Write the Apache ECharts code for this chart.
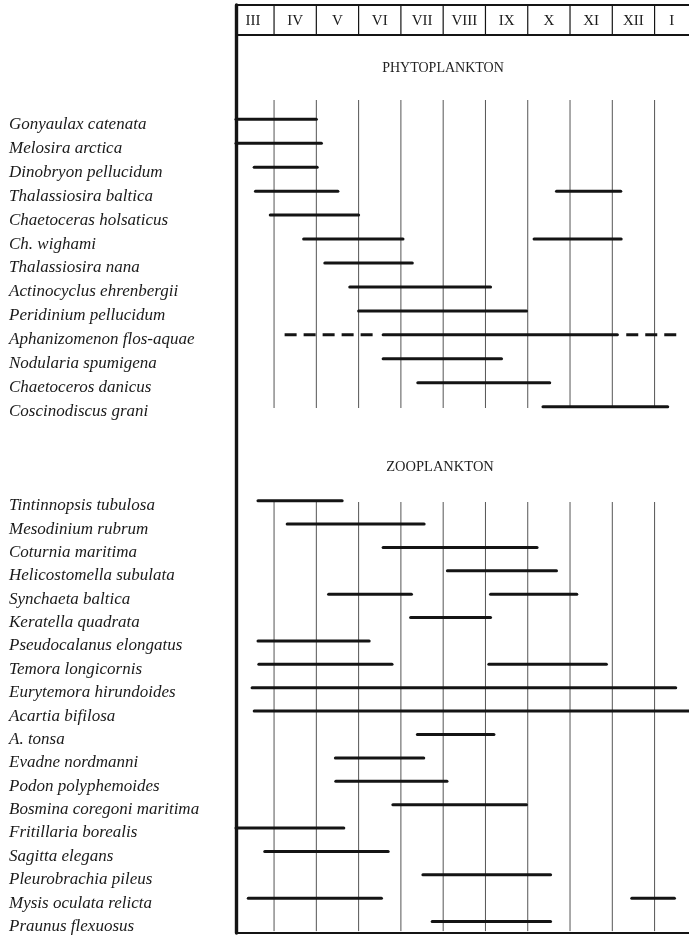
<!DOCTYPE html>
<html>
<head>
<meta charset="utf-8">
<script src="https://cdn.jsdelivr.net/npm/echarts@6.0.0/dist/echarts.min.js"></script>
<style>
html,body{margin:0;padding:0;background:#fff;}
#chart{width:689px;height:935px;}
</style>
</head>
<body>
<div id="chart"></div>
<script>
// ---- data ----
// x values: months elapsed since the start of March (III = 0..1, IV = 1..2, ..., I = 10..11)
const monthLabels = ['III','IV','V','VI','VII','VIII','IX','X','XI','XII','I'];
const monthBoundaries = [1,2,3,4,5,6,7,8,9,10];

const phytoSpecies = ['Gonyaulax catenata','Melosira arctica','Dinobryon pellucidum','Thalassiosira baltica','Chaetoceras holsaticus','Ch. wighami','Thalassiosira nana','Actinocyclus ehrenbergii','Peridinium pellucidum','Aphanizomenon flos-aquae','Nodularia spumigena','Chaetoceros danicus','Coscinodiscus grani'];
const phytoFrom  = [0.00, 0.00, 0.53, 0.56, 0.91, 1.70, 2.20, 2.79, 3.00, 3.58, 3.58, 4.40, 7.36];
const phytoTo    = [2.00, 2.12, 2.02, 2.51, 3.00, 4.05, 4.27, 6.12, 6.97, 9.12, 6.38, 7.52, 10.31];
const phytoFrom2 = [null, null, null, 7.68, null, 7.15, null, null, null, null, null, null, null];
const phytoTo2   = [null, null, null, 9.20, null, 9.21, null, null, null, null, null, null, null];
// sparse occurrence (dashed)
const sparseSpecies = ['Aphanizomenon flos-aquae','Aphanizomenon flos-aquae'];
const sparseFrom = [1.25, 9.33];
const sparseTo   = [3.38, 10.55];

const zooSpecies = ['Tintinnopsis tubulosa','Mesodinium rubrum','Coturnia maritima','Helicostomella subulata','Synchaeta baltica','Keratella quadrata','Pseudocalanus elongatus','Temora longicornis','Eurytemora hirundoides','Acartia bifilosa','A. tonsa','Evadne nordmanni','Podon polyphemoides','Bosmina coregoni maritima','Fritillaria borealis','Sagitta elegans','Pleurobrachia pileus','Mysis oculata relicta','Praunus flexuosus'];
const zooFrom  = [0.62, 1.31, 3.58, 5.10, 2.29, 4.23, 0.62, 0.64, 0.48, 0.53, 4.39, 2.45, 2.46, 3.81, 0.00, 0.78, 4.52, 0.39, 4.74];
const zooTo    = [2.61, 4.55, 7.22, 7.68, 4.25, 6.12, 3.25, 3.79, 10.50, 11.00, 6.20, 4.54, 5.09, 6.97, 2.65, 3.70, 7.54, 3.54, 7.54];
const zooFrom2 = [null, null, null, null, 6.12, null, null, 6.08, null, null, null, null, null, null, null, null, null, 9.46, null];
const zooTo2   = [null, null, null, null, 8.16, null, null, 8.86, null, null, null, null, null, null, null, null, null, 10.47, null];

// ---- build ----
function segments(from, to, from2, to2){
  const out = [];
  from.forEach((f,i)=>{
    out.push([f, to[i], i]);
    if (from2[i] != null) out.push([from2[i], to2[i], i]);
  });
  return out;
}
const phytoData = segments(phytoFrom, phytoTo, phytoFrom2, phytoTo2);
const zooData = segments(zooFrom, zooTo, zooFrom2, zooTo2);
const sparseData = sparseSpecies.map((s,i)=>[sparseFrom[i], sparseTo[i], phytoSpecies.indexOf(s)]);

const INK = '#141414';
const LABEL_FONT = '"Liberation Serif", "Times New Roman", serif';
const X_MIN = 0.1, X_MAX = 10.814;

function barRender(dashed){
  return function(params, api){
    const r = params.coordSys;
    const a = api.coord([api.value(0), api.value(2)]);
    const b = api.coord([api.value(1), api.value(2)]);
    const x1 = Math.max(a[0], r.x), x2 = Math.min(b[0], r.x + r.width + 20);
    return {
      type:'line',
      shape:{x1:x1, y1:a[1], x2:x2, y2:b[1]},
      style:{stroke:INK, lineWidth:3, lineCap: dashed ? 'butt' : 'round', lineDash: dashed ? [12,7] : null}
    };
  };
}
function vLineRender(topOff, bottomOff){
  return function(params, api){
    const r = params.coordSys;
    const p = api.coord([api.value(0), 0]);
    return {
      type:'line',
      shape:{x1:p[0], y1:r.y + topOff, x2:p[0], y2:r.y + r.height + bottomOff},
      style:{stroke:'#555', lineWidth:1}
    };
  };
}

function xAx(gi){ return {gridIndex:gi, type:'value', min:X_MIN, max:X_MAX, show:false}; }
function frameLine(w){ return {show:true, onZero:false, lineStyle:{color:INK, width:w}}; }

const catLabel = {
  show:true, align:'left', margin:227, color:'#1a1a1a',
  fontFamily:LABEL_FONT, fontStyle:'italic', fontSize:17,
  verticalAlign:'top', lineHeight:10, interval:0
};

const option = {
  backgroundColor:'#fff',
  animation:false,
  grid:[
    {left:236, right:0, top:5, bottom:2},
    {left:236, right:0, top:5, height:30},
    {left:236, right:0, top:107.3, height:311.4},
    {left:236, right:0, top:489, height:446.1}
  ],
  xAxis:[
    {gridIndex:0, type:'value', min:X_MIN, max:X_MAX, position:'top', axisLine:frameLine(2.2), axisTick:{show:false}, axisLabel:{show:false}, splitLine:{show:false}},
    {gridIndex:0, type:'value', min:X_MIN, max:X_MAX, position:'bottom', axisLine:frameLine(2.2), axisTick:{show:false}, axisLabel:{show:false}, splitLine:{show:false}},
    {gridIndex:1, type:'value', min:X_MIN, max:X_MAX, position:'bottom', axisLine:frameLine(2.2), axisTick:{show:false}, axisLabel:{show:false}, splitLine:{show:false}},
    xAx(2),
    xAx(3)
  ],
  yAxis:[
    {gridIndex:0, type:'value', min:0, max:1, position:'left', axisLine:frameLine(3.4), axisTick:{show:false}, axisLabel:{show:false}, splitLine:{show:false}},
    {gridIndex:1, type:'value', min:0, max:1, show:false},
    {gridIndex:2, type:'category', data:phytoSpecies, inverse:true,
      axisLine:{show:false}, axisTick:{show:false}, axisLabel:catLabel, splitLine:{show:false}},
    {gridIndex:3, type:'category', data:zooSpecies, inverse:true,
      axisLine:{show:false}, axisTick:{show:false}, axisLabel:catLabel, splitLine:{show:false}}
  ],
  graphic:[
    {type:'text', x:443, y:68, style:{text:'PHYTOPLANKTON', align:'center', verticalAlign:'middle', font:'14px ' + LABEL_FONT, fill:'#222'}},
    {type:'text', x:440, y:467, style:{text:'ZOOPLANKTON', align:'center', verticalAlign:'middle', font:'14.5px ' + LABEL_FONT, fill:'#222'}}
  ],
  series:[
    // header dividers
    {type:'custom', xAxisIndex:2, yAxisIndex:1, data:monthBoundaries.map(v=>[v,0]), encode:{x:0,y:1},
      renderItem:function(params, api){
        const r = params.coordSys; const p = api.coord([api.value(0), 0]);
        return {type:'line', shape:{x1:p[0], y1:r.y, x2:p[0], y2:r.y + r.height}, style:{stroke:INK, lineWidth:1.2}};
      }},
    // month labels (centred in the visible part of each month column)
    {type:'custom', xAxisIndex:2, yAxisIndex:1, data:monthLabels.map((m,i)=>[(i + Math.min(i + 1, X_MAX)) / 2, 0.5]), encode:{x:0,y:1},
      renderItem:function(params, api){
        const p = api.coord([api.value(0), api.value(1)]);
        return {type:'text', x:p[0], y:p[1] + 1, style:{text:monthLabels[params.dataIndex], align:'center', verticalAlign:'middle', font:'15px ' + LABEL_FONT, fill:'#1a1a1a'}};
      }},
    // phyto month lines
    {type:'custom', xAxisIndex:3, yAxisIndex:2, data:monthBoundaries.map(v=>[v,0]), encode:{x:0,y:1},
      renderItem:vLineRender(-7.3, -10.7)},
    // zoo month lines
    {type:'custom', xAxisIndex:4, yAxisIndex:3, data:monthBoundaries.map(v=>[v,0]), encode:{x:0,y:1},
      renderItem:vLineRender(13, -2.1)},
    // phyto bars
    {type:'custom', xAxisIndex:3, yAxisIndex:2, data:phytoData, encode:{x:[0,1], y:2}, renderItem:barRender(false), z:5},
    {type:'custom', xAxisIndex:3, yAxisIndex:2, data:sparseData, encode:{x:[0,1], y:2}, renderItem:barRender(true), z:5},
    // zoo bars
    {type:'custom', xAxisIndex:4, yAxisIndex:3, data:zooData, encode:{x:[0,1], y:2}, renderItem:barRender(false), z:5}
  ]
};

const chart = echarts.init(document.getElementById('chart'), null, {renderer:'canvas'});
chart.setOption(option);
</script>
</body>
</html>
